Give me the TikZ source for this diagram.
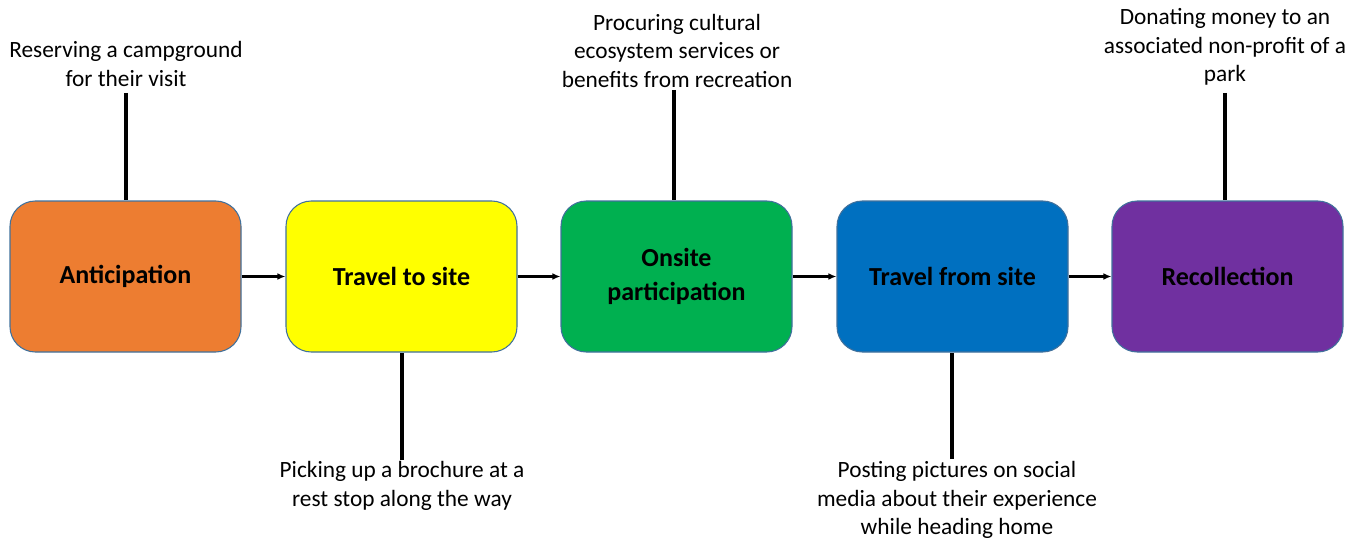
\documentclass[tikz,border=0pt]{standalone}
\usepackage{fontspec}
\setmainfont{Carlito}
\usetikzlibrary{arrows.meta}
\definecolor{cOrange}{HTML}{ED7D31}
\definecolor{cYellow}{HTML}{FFFF00}
\definecolor{cGreen}{HTML}{00B050}
\definecolor{cBlue}{HTML}{0070C0}
\definecolor{cPurple}{HTML}{7030A0}
\definecolor{cEdge}{HTML}{41719C}
\begin{document}
\begin{tikzpicture}[x=0.75pt,y=-0.75pt,
  stage/.style={draw=cEdge, line width=0.8pt, rounded corners=19pt, minimum width=231*0.75pt, minimum height=151*0.75pt, inner sep=0pt, align=center, font=\fontsize{19.5}{25}\selectfont\bfseries},
  note/.style={align=center, inner sep=0pt, font=\fontsize{17.5}{21.5}\selectfont},
  flow/.style={-{Latex[length=6pt,width=5pt]}, line width=1.6pt},
  stem/.style={line width=2.6pt}]
\useasboundingbox (0,0) rectangle (1361,542);
\node[stage, fill=cOrange] (a) at (125.5,276.5) {Anticipation};
\node[stage, fill=cYellow] (b) at (401.5,276.5) {Travel to site};
\node[stage, fill=cGreen]  (c) at (676.5,276.5) {Onsite\\participation};
\node[stage, fill=cBlue]   (d) at (952.5,276.5) {Travel from site};
\node[stage, fill=cPurple] (e) at (1227.5,276.5) {Recollection};
\draw[flow] (a.east) -- (b.west);
\draw[flow] (b.east) -- (c.west);
\draw[flow] (c.east) -- (d.west);
\draw[flow] (d.east) -- (e.west);
\node[note, anchor=south] (na) at (126,87) {Reserving a campground\\for their visit};
\node[note, anchor=south] (nc) at (677,88) {Procuring cultural\\ecosystem services or\\benefits from recreation};
\node[note, anchor=south] (ne) at (1225,86) {Donating money to an\\associated non-profit of a\\park};
\node[note, anchor=north] (nb) at (402,461) {Picking up a brochure at a\\rest stop along the way};
\node[note, anchor=north] (nd) at (957,461) {Posting pictures on social\\media about their experience\\while heading home};
\coordinate (ta) at (126,93);
\coordinate (tc) at (674,90);
\coordinate (te) at (1225,93);
\coordinate (tb) at (402,460);
\coordinate (td) at (952,459);
\draw[stem] (ta) -- (ta |- a.north);
\draw[stem] (tc) -- (tc |- c.north);
\draw[stem] (te) -- (te |- e.north);
\draw[stem] (tb) -- (tb |- b.south);
\draw[stem] (td) -- (td |- d.south);
\end{tikzpicture}
\end{document}
